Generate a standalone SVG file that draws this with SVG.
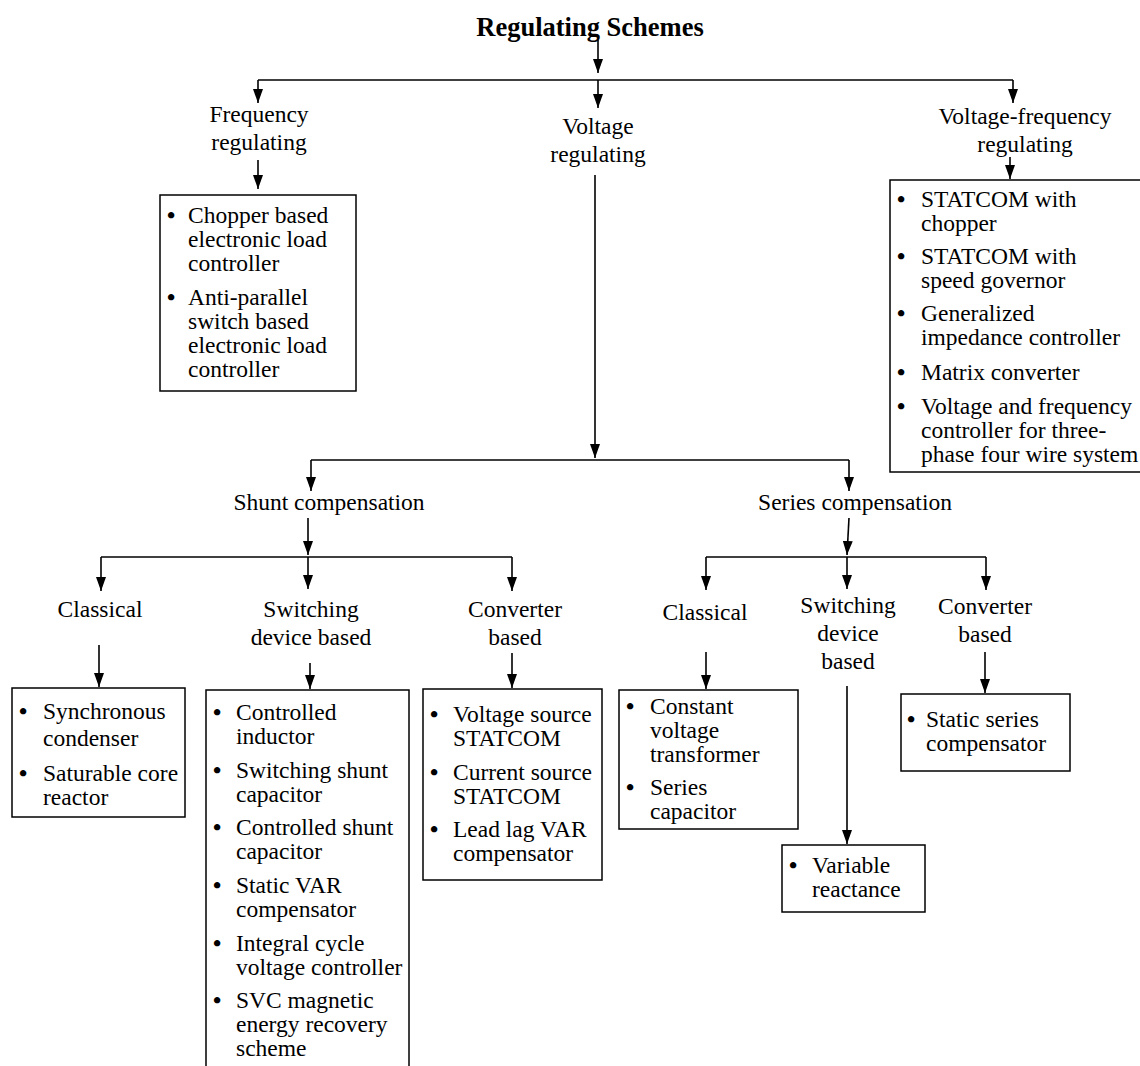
<svg xmlns="http://www.w3.org/2000/svg" width="1140" height="1066" viewBox="0 0 1140 1066">
<defs>
<marker id="ah" markerUnits="userSpaceOnUse" viewBox="0 0 14 10" markerWidth="14" markerHeight="10" refX="14" refY="5" orient="auto">
<path d="M0,0 L14,5 L0,10 z" fill="#000"/>
</marker>
<style>
text{font-family:"Liberation Serif","Times New Roman",serif;font-size:23.5px;fill:#000}
.t{font-size:26.5px;font-weight:bold}
.c{text-anchor:middle}
.b{font-weight:bold}
.box{fill:#fff;stroke:#000;stroke-width:1.5}
.ln{fill:none;stroke:#000;stroke-width:1.6}
.ar{fill:none;stroke:#000;stroke-width:1.6;marker-end:url(#ah)}
</style>
</defs>
<rect width="1140" height="1066" fill="#fff"/>

<g id="connectors">
<line class="ar" x1="598" y1="40" x2="598" y2="73"/>
<line class="ln" x1="258" y1="80" x2="1013" y2="80"/>
<line class="ar" x1="258" y1="80" x2="258" y2="103"/>
<line class="ar" x1="598" y1="80" x2="598" y2="108"/>
<line class="ar" x1="1013" y1="80" x2="1013" y2="103"/>
<line class="ar" x1="258" y1="160" x2="258" y2="189"/>
<line class="ar" x1="1010" y1="157" x2="1010" y2="179"/>
<line class="ar" x1="595" y1="175" x2="595" y2="458"/>
<line class="ln" x1="311" y1="460" x2="849" y2="460"/>
<line class="ar" x1="311" y1="460" x2="311" y2="491"/>
<line class="ar" x1="849" y1="460" x2="849" y2="491"/>
<line class="ar" x1="308" y1="518" x2="308" y2="555"/>
<line class="ln" x1="101" y1="557" x2="512" y2="557"/>
<line class="ar" x1="101" y1="557" x2="101" y2="591"/>
<line class="ar" x1="308" y1="557" x2="308" y2="589"/>
<line class="ar" x1="512" y1="557" x2="512" y2="591"/>
<line class="ar" x1="849" y1="518" x2="847" y2="555"/>
<line class="ln" x1="706" y1="557" x2="986" y2="557"/>
<line class="ar" x1="706" y1="557" x2="706" y2="590"/>
<line class="ar" x1="847" y1="557" x2="847" y2="589"/>
<line class="ar" x1="986" y1="557" x2="986" y2="590"/>
<line class="ar" x1="99" y1="645" x2="99" y2="687"/>
<line class="ar" x1="310" y1="663" x2="310" y2="689"/>
<line class="ar" x1="512" y1="653" x2="512" y2="688"/>
<line class="ar" x1="706" y1="652" x2="706" y2="689"/>
<line class="ar" x1="847" y1="686" x2="847" y2="844"/>
<line class="ar" x1="985" y1="652" x2="985" y2="693"/>
</g>

<g id="title"><text class="t c" x="590" y="36">Regulating Schemes</text></g>

<g id="freq"><text class="c" x="259" y="122">Frequency</text><text class="c" x="259" y="150">regulating</text></g>
<g id="volt"><text class="c" x="598" y="134">Voltage</text><text class="c" x="598" y="162">regulating</text></g>
<g id="vf"><text class="c" x="1025" y="124">Voltage-frequency</text><text class="c" x="1025" y="152">regulating</text></g>

<g id="freq-box">
<rect class="box" x="160" y="195" width="196" height="196"/>
<text class="b" x="167" y="223">•</text><text x="188" y="223">Chopper based</text>
<text x="188" y="247">electronic load</text>
<text x="188" y="271">controller</text>
<text class="b" x="167" y="305">•</text><text x="188" y="305">Anti-parallel</text>
<text x="188" y="329">switch based</text>
<text x="188" y="353">electronic load</text>
<text x="188" y="377">controller</text>
</g>

<g id="vf-box">
<rect class="box" x="890" y="180" width="255" height="292"/>
<text class="b" x="897" y="207">•</text><text x="921" y="207">STATCOM with</text>
<text x="921" y="231">chopper</text>
<text class="b" x="897" y="264">•</text><text x="921" y="264">STATCOM with</text>
<text x="921" y="288">speed governor</text>
<text class="b" x="897" y="321">•</text><text x="921" y="321">Generalized</text>
<text x="921" y="345">impedance controller</text>
<text class="b" x="897" y="380">•</text><text x="921" y="380">Matrix converter</text>
<text class="b" x="897" y="414">•</text><text x="921" y="414">Voltage and frequency</text>
<text x="921" y="438">controller for three-</text>
<text x="921" y="462">phase four wire system</text>
</g>

<g id="shunt"><text class="c" x="329" y="510">Shunt compensation</text></g>
<g id="series"><text class="c" x="855" y="510">Series compensation</text></g>

<g id="sh-classical"><text class="c" x="100" y="617">Classical</text></g>
<g id="sh-switching"><text class="c" x="311" y="617">Switching</text><text class="c" x="311" y="645">device based</text></g>
<g id="sh-converter"><text class="c" x="515" y="617">Converter</text><text class="c" x="515" y="645">based</text></g>

<g id="se-classical"><text class="c" x="705" y="620">Classical</text></g>
<g id="se-switching"><text class="c" x="848" y="613">Switching</text><text class="c" x="848" y="641">device</text><text class="c" x="848" y="669">based</text></g>
<g id="se-converter"><text class="c" x="985" y="614">Converter</text><text class="c" x="985" y="642">based</text></g>

<g id="sh-classical-box">
<rect class="box" x="12" y="688" width="173" height="129"/>
<text class="b" x="19" y="719">•</text><text x="43" y="719">Synchronous</text>
<text x="43" y="746">condenser</text>
<text class="b" x="19" y="781">•</text><text x="43" y="781">Saturable core</text>
<text x="43" y="805">reactor</text>
</g>

<g id="sh-switching-box">
<rect class="box" x="206" y="690" width="203" height="390"/>
<text class="b" x="213" y="720">•</text><text x="236" y="720">Controlled</text>
<text x="236" y="744">inductor</text>
<text class="b" x="213" y="778">•</text><text x="236" y="778">Switching shunt</text>
<text x="236" y="802">capacitor</text>
<text class="b" x="213" y="835">•</text><text x="236" y="835">Controlled shunt</text>
<text x="236" y="859">capacitor</text>
<text class="b" x="213" y="893">•</text><text x="236" y="893">Static VAR</text>
<text x="236" y="917">compensator</text>
<text class="b" x="213" y="951">•</text><text x="236" y="951">Integral cycle</text>
<text x="236" y="975">voltage controller</text>
<text class="b" x="213" y="1008">•</text><text x="236" y="1008">SVC magnetic</text>
<text x="236" y="1032">energy recovery</text>
<text x="236" y="1056">scheme</text>
</g>

<g id="sh-converter-box">
<rect class="box" x="423" y="689" width="179" height="191"/>
<text class="b" x="430" y="722">•</text><text x="453" y="722">Voltage source</text>
<text x="453" y="746">STATCOM</text>
<text class="b" x="430" y="780">•</text><text x="453" y="780">Current source</text>
<text x="453" y="804">STATCOM</text>
<text class="b" x="430" y="837">•</text><text x="453" y="837">Lead lag VAR</text>
<text x="453" y="861">compensator</text>
</g>

<g id="se-classical-box">
<rect class="box" x="619" y="690" width="179" height="139"/>
<text class="b" x="626" y="714">•</text><text x="650" y="714">Constant</text>
<text x="650" y="738">voltage</text>
<text x="650" y="762">transformer</text>
<text class="b" x="626" y="795">•</text><text x="650" y="795">Series</text>
<text x="650" y="819">capacitor</text>
</g>

<g id="se-switching-box">
<rect class="box" x="782" y="845" width="143" height="67"/>
<text class="b" x="789" y="873">•</text><text x="812" y="873">Variable</text>
<text x="812" y="897">reactance</text>
</g>

<g id="se-converter-box">
<rect class="box" x="901" y="694" width="169" height="77"/>
<text class="b" x="907" y="727">•</text><text x="926" y="727">Static series</text>
<text x="926" y="751">compensator</text>
</g>
</svg>
